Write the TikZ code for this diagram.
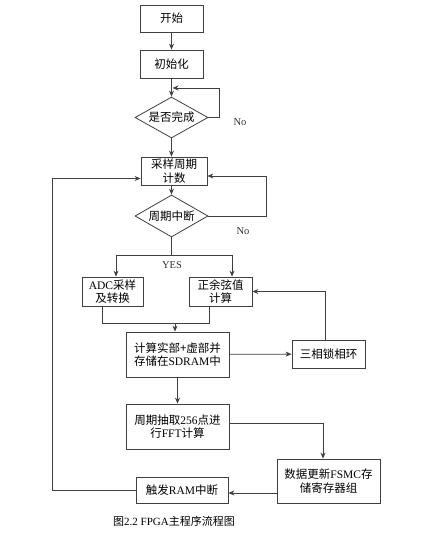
\documentclass[tikz,border=0pt]{standalone}
\usepackage{fontspec}
\setmainfont{Liberation Serif}
\newfontfamily\cjk{Noto Sans CJK SC}
\usetikzlibrary{shapes.geometric,arrows.meta}

\tikzstyle{box} = [draw=black!75, line width=0.8pt, align=center, inner sep=1pt, font=\cjk\fontsize{11.5}{13.5}\selectfont]
\tikzstyle{decision} = [draw=black!75, line width=0.8pt, diamond, aspect=1.8, inner sep=0pt, font=\cjk\fontsize{11.5}{13.5}\selectfont]
\tikzstyle{lbl} = [font=\fontsize{10.5}{12}\selectfont, text=black!80]
\tikzstyle{arrow} = [draw=black!75, line width=0.8pt,->,>={Stealth[length=6pt,width=5pt]}]
\tikzstyle{line} = [draw=black!75, line width=0.8pt]

\begin{document}
\begin{tikzpicture}[x=1pt,y=-1pt]
\useasboundingbox (0,0) rectangle (425,535);

% Boxes
\node (start) [box, minimum width=63, minimum height=27] at (171.5,18.5) {开始};
\node (init) [box, minimum width=63, minimum height=28] at (171.5,64) {初始化};
\node (done) [decision, minimum width=73, minimum height=41] at (171.5,117.5) {是否完成};
\node (sample) [box, minimum width=66, minimum height=28] at (174,171) {采样周期\\计数};
\node (period) [decision, minimum width=73, minimum height=42] at (171.5,216) {周期中断};
\node (adc) [box, minimum width=61, minimum height=29] at (112.5,291.5) {{\rmfamily ADC}采样\\及转换};
\node (sincos) [box, minimum width=63, minimum height=29] at (220.5,291.5) {正余弦值\\计算};
\node (calc) [box, minimum width=103, minimum height=45] at (177.5,354.5) {计算实部+虚部并\\存储在{\rmfamily SDRAM}中};
\node (pll) [box, minimum width=73, minimum height=28] at (328.5,354) {三相锁相环};
\node (fft) [box, minimum width=103, minimum height=45] at (177.5,426.5) {周期抽取{\rmfamily 256}点进\\行{\rmfamily FFT}计算};
\node (fsmc) [box, minimum width=103, minimum height=44] at (328.5,481) {数据更新{\rmfamily FSMC}存\\储寄存器组};
\node (trig) [box, minimum width=92, minimum height=26] at (182,490) {触发{\rmfamily RAM}中断};

% Labels
\node (no1) [lbl] at (240,122) {No};
\node (no2) [lbl] at (243,231) {No};
\node (yes) [lbl] at (172,265) {YES};
\node (cap) [font=\fontsize{11}{13}\selectfont] at (174,521) {{\cjk 图}2.2 FPGA{\cjk 主程序流程图}};

% Top part
\coordinate (c1) at (171.5,88);
\draw [arrow] (start) -- (init);
\draw [arrow] (init) -- (done);
\draw [arrow] (done.east) -- ++(11,0) |- ([xshift=1pt]c1);
\draw [arrow] (done.south) -- (done.south |- sample.north);
\draw [arrow] (sample.south -| period.north) -- (period.north);
\draw [arrow] (period.east) -- ++(58,0) |- ([yshift=-5pt]sample.east);

% Split and join
\coordinate (split) at (171.5,255);
\draw [line] (period.south) -- (split);
\draw [arrow] (split) -| ([xshift=3.5pt]adc.north);
\draw [arrow] (split) -| ([xshift=11.5pt]sincos.north);
\coordinate (join) at (175,323);
\draw [line] ([xshift=-10.5pt]adc.south) |- (join);
\draw [line] ([xshift=-11.5pt]sincos.south) |- (join);
\draw [arrow] (join) -- (join |- calc.north);

% Lower part
\draw [arrow] (calc) -- (pll);
\draw [arrow] ([xshift=-3.5pt]pll.north) |- (sincos.east);
\draw [arrow] (calc) -- (fft);
\draw [arrow] ([yshift=3.5pt]fft.east) -| ([xshift=-5.5pt]fsmc.north);
\draw [arrow] ([yshift=-12pt]fsmc.west) -- ([yshift=-12pt]fsmc.west -| trig.east);
\draw [arrow] (trig.west) -- ++(-83,0) |- ([yshift=-7.5pt]sample.west);

\end{tikzpicture}
\end{document}
